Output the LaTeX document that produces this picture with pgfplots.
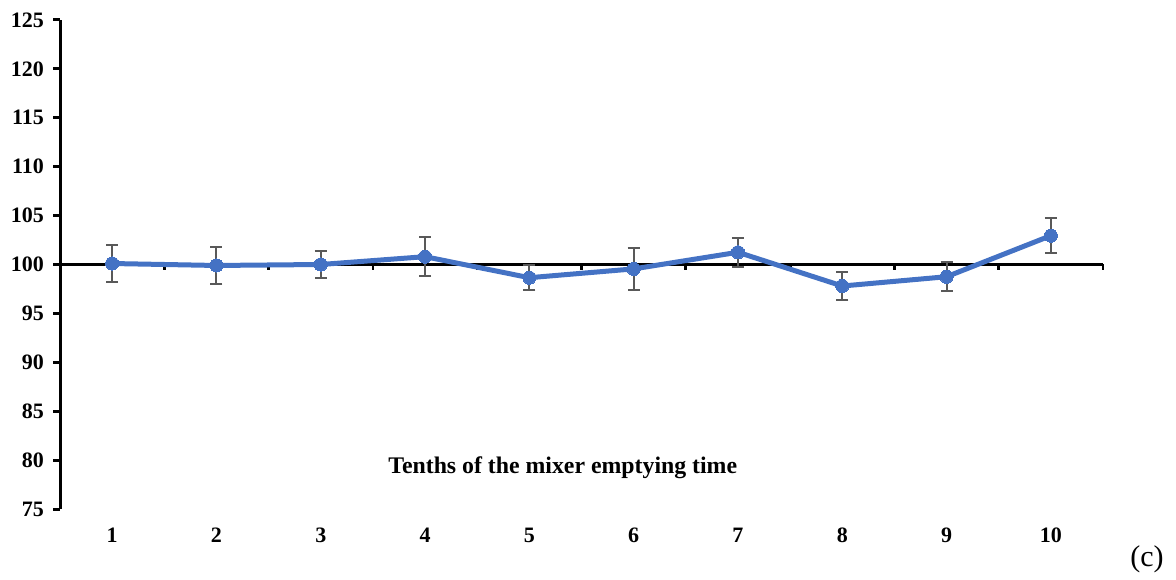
\documentclass[border=0pt]{standalone}
\usepackage{pgfplots}
\pgfplotsset{compat=1.18}
\usepackage{fontspec}
\setmainfont{Liberation Serif}
\usetikzlibrary{calc}
\definecolor{lineblue}{HTML}{4472C4}
\definecolor{errgray}{HTML}{595959}
\pgfplotstableread{
x y e
1 100.1 1.85
2 99.9 1.9
3 100.0 1.35
4 100.8 2.0
5 98.65 1.3
6 99.55 2.15
7 101.25 1.5
8 97.8 1.45
9 98.75 1.5
10 102.95 1.8
}\datatable
\begin{document}
\begin{tikzpicture}
\begin{axis}[
  name=ax,
  scale only axis,
  width=521.5pt, height=244.5pt,
  xmin=0.5, xmax=10.5,
  ymin=75, ymax=125,
  axis y line*=left,
  axis x line*=bottom,
  x axis line style={draw=none},
  y axis line style={line width=1.5pt, black},
  xtick={1,...,10},
  xtick style={draw=none},
  ytick={75,80,...,125},
  ytick style={line width=1.5pt, black},
  tick align=outside,
  major tick length=3.5pt,
  clip=false,
  ticklabel style={font=\fontsize{11}{13}\selectfont\bfseries},
  /pgf/number format/assume math mode=true,
  xticklabel style={yshift=-2.5pt},
  yticklabel style={xshift=-1pt},
]
\draw[black, line width=1.4pt] (axis cs:0.5,100) -- (axis cs:10.5,100);
\pgfplotsinvokeforeach{1.5,2.5,...,10.5}{
  \draw[black, line width=1.4pt] (axis cs:#1,100) -- ([yshift=-3pt]axis cs:#1,100);
}
\addplot[color=lineblue, line width=2.5pt, mark=*, mark size=3.3pt,
  mark options={fill=lineblue, draw=lineblue, line width=0pt},
  error bars/.cd, y dir=both, y explicit,
  error bar style={errgray, line width=1pt},
  error mark options={errgray, rotate=90, mark size=3pt, line width=1pt}]
  table[x=x, y=y, y error=e] {\datatable};
\node[font=\fontsize{11.9}{13}\selectfont\bfseries] at (axis cs:5.32,79.2) {Tenths of the mixer emptying time};
\end{axis}
\node[font=\fontsize{15}{17}\selectfont] at ($(ax.south east)+(22pt,-25pt)$) {(c)};
\path ($(ax.south west)+(-30pt,-31.5pt)$) rectangle ($(ax.north east)+(36.5pt,10pt)$);
\end{tikzpicture}
\end{document}
